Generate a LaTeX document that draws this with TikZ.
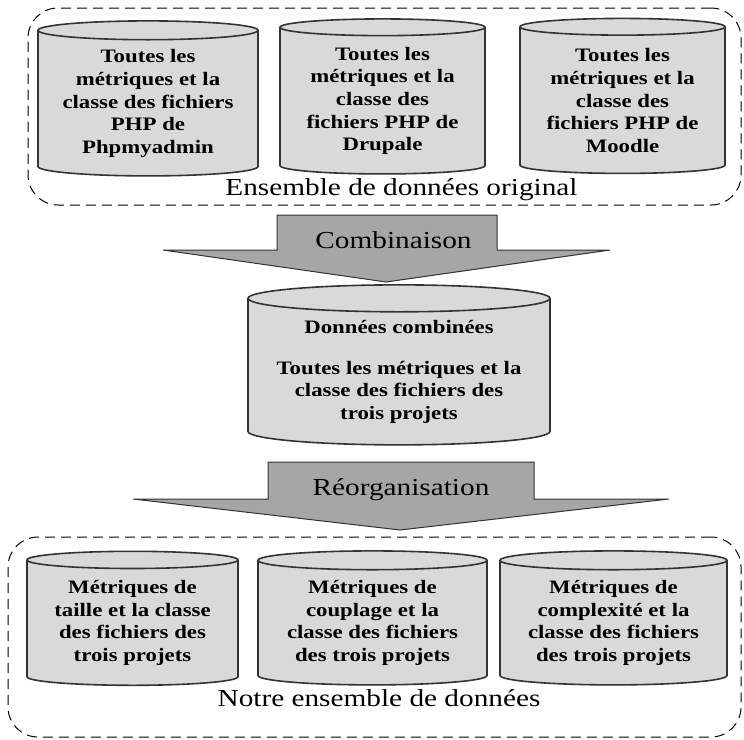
\documentclass[tikz,border=0pt]{standalone}
\usepackage{fontspec}
\setmainfont{Liberation Serif}[FakeStretch=1.2]
\usetikzlibrary{shapes.geometric}

\definecolor{cylgray}{gray}{0.85}
\definecolor{flowgray}{gray}{0.65}
\definecolor{edgegray}{gray}{0.2}

\tikzset{
  db/.style={cylinder, shape border rotate=90, aspect=0.11, draw=edgegray, line width=0.8pt,
    fill=cylgray, align=center, inner sep=0pt,
    font=\fontsize{9.5}{11.3}\selectfont\bfseries},
  group/.style={rectangle, draw, dash pattern=on 5pt off 3pt, rounded corners=15pt, line width=0.5pt},
  flow/.style={draw=edgegray, fill=flowgray, line width=0.5pt},
  caption/.style={font=\fontsize{12.2}{14}\selectfont, inner sep=0pt}
}

\begin{document}
\begin{tikzpicture}[x=0.5pt, y=-0.5pt]
  \useasboundingbox (0,0) rectangle (744,739);
  % Groups
  \node (orig) [group, minimum width=356.5pt, minimum height=98.5pt] at (384.5, 106.5) {};
  \node (ours) [group, minimum width=366.5pt, minimum height=100pt] at (374.5, 637) {};
  % Original data
  \node (phpmyadmin) [db, minimum width=110pt, minimum height=77.5pt] at (148, 103.5)
    {Toutes les\\métriques et la\\classe des fichiers\\PHP de\\Phpmyadmin};
  \node (drupal) [db, minimum width=102.5pt, minimum height=77.5pt] at (382.5, 101)
    {Toutes les\\métriques et la\\classe des\\fichiers PHP de\\Drupale};
  \node (moodle) [db, minimum width=102.5pt, minimum height=77.5pt] at (622.5, 100.5)
    {Toutes les\\métriques et la\\classe des\\fichiers PHP de\\Moodle};
  \node (orig-label) [caption] at (401.5, 190) {Ensemble de données original};
  % Combined data
  \node (combined) [db, minimum width=151pt, minimum height=80pt] at (399, 372)
    {Données combinées\\[9pt]Toutes les métriques et la\\classe des fichiers des\\trois projets};
  % Our data
  \node (size) [db, minimum width=105.5pt, minimum height=67pt] at (132.5, 623)
    {Métriques de\\taille et la classe\\des fichiers des\\trois projets};
  \node (coupling) [db, minimum width=114.5pt, minimum height=67pt] at (372.5, 623)
    {Métriques de\\couplage et la\\classe des fichiers\\des trois projets};
  \node (complexity) [db, minimum width=113.5pt, minimum height=67pt] at (613.5, 623)
    {Métriques de\\complexité et la\\classe des fichiers\\des trois projets};
  \node (ours-label) [caption] at (379, 698) {Notre ensemble de données};
  % Arrows
  \draw[flow] (277,215) -- (497,215) -- (497,250) -- (610,250) -- (386,282)
    -- (163,250) -- (277,250) -- cycle;
  \node (combine) [caption] at (393.5, 240) {Combinaison};
  \draw[flow] (268,462) -- (534,462) -- (534,499) -- (669,499) -- (400,530)
    -- (133,499) -- (268,499) -- cycle;
  \node (reorganise) [caption] at (401, 490) {Réorganisation};
\end{tikzpicture}
\end{document}
